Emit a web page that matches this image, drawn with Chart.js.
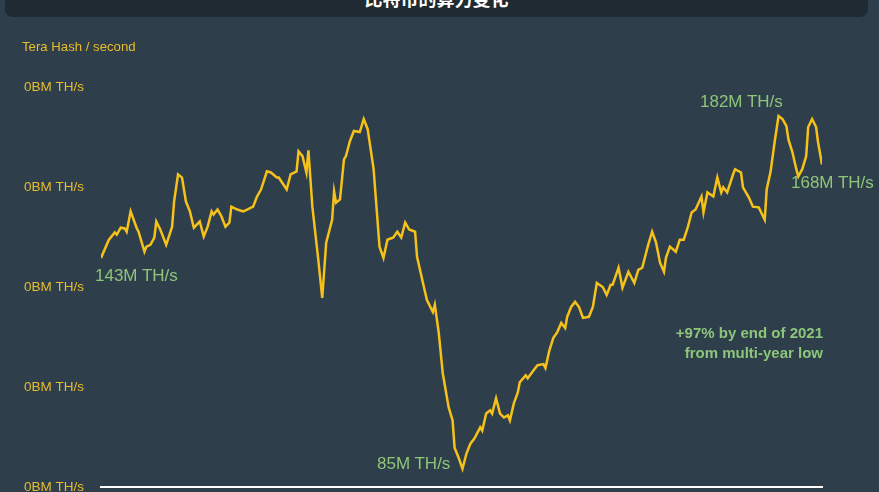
<!DOCTYPE html>
<html>
<head>
<meta charset="utf-8">
<script src="https://cdn.jsdelivr.net/npm/chart.js@4/dist/chart.umd.min.js"></script>
<style>
  html, body { margin: 0; padding: 0; background: #2e3e4b; overflow: hidden; }
  #wrap { position: relative; width: 879px; height: 492px; font-family: "Liberation Sans", Arial, sans-serif; }
  canvas { position: absolute; left: 0; top: 0; }
  .hdr { position: absolute; left: 5px; top: -20px; width: 863px; height: 37px; background: #1f2a32;
         border-radius: 8px; color: #fff; font: bold 18px "Noto Sans CJK SC", sans-serif; line-height: 37px; text-align: center; }
  .unit { position: absolute; left: 22px; top: 39px; color: #e8bd2c; font-size: 13.2px; }
  .lbl { position: absolute; color: #8dc57a; font-size: 17px; white-space: nowrap; }
  .note { position: absolute; right: 56px; top: 323px; color: #8dc57a; font-weight: bold; font-size: 15px;
          text-align: right; line-height: 20px; }
</style>
</head>
<body>
<div id="wrap">
  <canvas id="myChart" width="879" height="492"></canvas>
  <div class="hdr">比特币的算力变化</div>
  <div class="unit">Tera Hash / second</div>
  <div class="lbl" style="left:95px;top:266px">143M TH/s</div>
  <div class="lbl" style="left:377px;top:454px">85M TH/s</div>
  <div class="lbl" style="left:700px;top:92px">182M TH/s</div>
  <div class="lbl" style="left:791px;top:173px">168M TH/s</div>
  <div class="note">+97% by end of 2021<br>from multi-year low</div>
</div>
<script>
// day of 2021
const days = [0, 4, 7, 8, 10, 12, 13, 15, 18, 19, 22, 23, 25, 27, 28, 30, 33, 36, 37, 39,
  41, 43, 45, 47, 50, 52, 54, 56, 57, 59, 61, 63, 65, 66, 69, 72, 74, 77, 79, 81,
  84, 86, 89, 90, 94, 96, 99, 100, 102, 104, 105, 107, 110, 112, 114, 117, 118, 119, 121, 123,
  124, 126, 128, 131, 133, 135, 138, 141, 143, 145, 148, 150, 152, 154, 156, 159, 160, 163, 165, 168,
  169, 171, 173, 176, 178, 179, 181, 183, 185, 187, 189, 192, 193, 195, 197, 198, 200, 202, 204, 206,
  207, 209, 211, 212, 215, 216, 219, 221, 224, 225, 227, 229, 231, 233, 235, 236, 238, 240, 242, 244,
  247, 249, 251, 254, 256, 258, 259, 262, 264, 267, 270, 272, 274, 277, 279, 281, 283, 285, 286, 288,
  291, 293, 295, 297, 299, 301, 304, 305, 307, 310, 312, 314, 315, 317, 320, 321, 324, 325, 328, 330,
  333, 336, 337, 339, 341, 343, 345, 347, 348, 350, 352, 353, 355, 357, 358, 360, 362, 363, 365];

// hash rate, million TH/s
const hashrate = [143.0, 148.0, 150.0, 149.4, 151.3, 151.1, 150.2, 155.8, 151.3, 150.2, 144.7, 146.1, 146.6, 148.6, 153.0, 150.8, 146.6, 151.6, 158.5, 166.0,
  165.1, 158.5, 155.8, 151.3, 153.0, 148.9, 151.6, 155.8, 154.9, 156.3, 154.4, 151.6, 152.7, 157.1, 156.3, 155.8, 156.3, 157.1, 159.9, 161.8,
  166.8, 166.5, 165.1, 165.1, 161.8, 166.0, 166.8, 172.3, 171.0, 166.5, 172.6, 157.1, 142.5, 132.0, 147.2, 153.5, 161.3, 158.2, 159.1, 170.1,
  171.0, 175.1, 177.9, 177.6, 181.2, 178.4, 167.4, 146.1, 143.0, 148.0, 148.6, 150.2, 148.6, 152.7, 150.8, 150.2, 143.3, 136.1, 131.4, 128.1,
  130.1, 122.3, 111.3, 101.9, 98.3, 90.8, 88.1, 85.0, 89.2, 91.9, 93.3, 96.4, 95.5, 100.2, 101.1, 100.2, 104.4, 100.2, 99.1, 99.7,
  98.3, 103.0, 106.0, 108.8, 110.7, 109.9, 112.1, 113.5, 113.8, 112.7, 117.6, 121.0, 122.6, 125.1, 123.7, 126.8, 129.5, 130.9, 129.5, 126.5,
  126.8, 129.5, 136.1, 135.0, 132.8, 135.6, 135.6, 140.3, 134.8, 139.2, 136.1, 139.7, 140.3, 146.6, 150.2, 147.2, 141.7, 139.2, 143.0, 146.1,
  144.7, 148.0, 148.0, 151.3, 155.5, 156.3, 159.9, 155.5, 161.0, 159.9, 165.1, 161.0, 162.4, 161.0, 166.0, 167.4, 166.5, 162.4, 159.6, 157.1,
  156.9, 153.5, 161.8, 166.8, 174.8, 182.0, 181.2, 179.2, 175.6, 172.1, 167.4, 165.4, 167.4, 171.0, 179.0, 181.2, 179.0, 174.8, 168.7];

const yTicks = [80, 107.5, 135, 162.5, 190];
const tickText = "0BM TH/s";

const ctx = document.getElementById("myChart");

new Chart(ctx, {
  type: "line",
  data: {
    datasets: [
      {
        data: days.map((d, i) => ({ x: d, y: hashrate[i] })),
        borderColor: "#f6c21a",
        borderWidth: 2.5,
        pointRadius: 0,
        tension: 0,
      },
    ],
  },
  options: {
    responsive: false,
    animation: false,
    layout: { padding: { left: 24, top: 87, right: 57, bottom: 5 } },
    plugins: { legend: { display: false }, tooltip: { enabled: false } },
    scales: {
      x: {
        type: "linear",
        min: 0,
        max: 365,
        ticks: { display: false },
        grid: { display: false },
        border: { display: true, color: "#ffffff", width: 2 },
        afterFit: (s) => { s.height = 0; s.paddingLeft = 0; s.paddingRight = 0; },
      },
      y: {
        min: yTicks[0],
        max: yTicks[yTicks.length - 1],
        afterBuildTicks: (s) => { s.ticks = yTicks.map((v) => ({ value: v })); },
        afterFit: (s) => { s.width = 77; s.paddingTop = 0; s.paddingBottom = 0; },
        grid: { display: false },
        border: { display: false },
        ticks: {
          color: "#e8bd2c",
          font: { family: "Liberation Sans", size: 13.5 },
          crossAlign: "far",
          padding: 18,
          callback: () => tickText,
        },
      },
    },
  },
});
</script>
</body>
</html>
